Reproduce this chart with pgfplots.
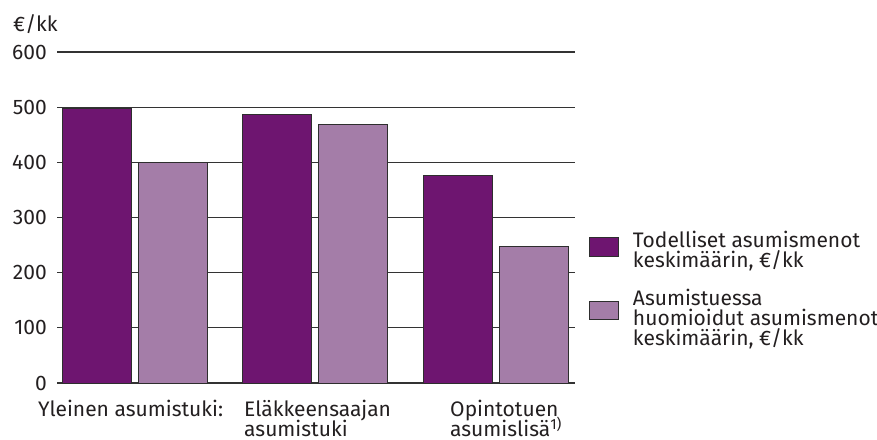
\documentclass[border=0pt]{standalone}
\usepackage{fontspec}
\setmainfont{Fira Sans}
\usepackage{pgfplots}
\pgfplotsset{compat=1.18}
\definecolor{darkp}{HTML}{6E1570}
\definecolor{lightp}{HTML}{A47DA8}
\definecolor{edgec}{HTML}{2E2E2E}
\definecolor{gridc}{HTML}{333333}
\definecolor{textc}{HTML}{231F20}
\newcommand\myfont{\fontsize{21}{20}\selectfont\lineskiplimit=-100pt\relax\lineskip=0pt\relax}
\begin{document}
\myfont
\begin{tikzpicture}[font=\myfont, text=textc]
\path[use as bounding box] (-57pt,-56pt) rectangle (820pt,383pt);
\begin{axis}[
  at={(0pt,0pt)}, anchor=south west,
  scale only axis, width=518pt, height=331pt,
  xmin=-0.429, xmax=2.437, ymin=0, ymax=600,
  axis line style={draw=none},
  major tick length=0pt,
  ytick={0,100,...,600},
  ymajorgrids, grid style={gridc, line width=1.2pt},
  /pgf/number format/assume math mode=true,
  yticklabel style={anchor=east, inner sep=0pt, xshift=-10pt, text=textc},
  xtick={0,1,2},
  xticklabels={{Yleinen asumistuki:}, {Eläkkeensaajan\\asumistuki}, {Opintotuen\\asumislisä\textsuperscript{1)}}},
  xticklabel style={anchor=north west, align=left, inner sep=0pt, yshift=-17pt, xshift={-96.5pt+25.25pt*\ticknum}, text=textc, font=\myfont},
  ybar=7pt, bar width=69pt,
  legend cell align=left,
  legend style={draw=none, fill=none, inner sep=0pt, row sep=18pt, column sep=14pt,
    at={(rel axis cs:1.027,0.4592)}, anchor=north west,
    nodes={inner sep=0pt, align=left, text=textc}},
]
\addplot[fill=darkp, draw=edgec, line width=0.8pt,
  legend image code/.code={\draw[fill=darkp, draw=edgec, line width=0.8pt] (0pt,-5pt) rectangle (29pt,13.5pt);}]
  coordinates {(0,498) (1,486) (2,376)};
\addplot[fill=lightp, draw=edgec, line width=0.8pt,
  legend image code/.code={\draw[fill=lightp, draw=edgec, line width=0.8pt] (0pt,-1pt) rectangle (29pt,17pt);}]
  coordinates {(0,399) (1,468) (2,248)};
\legend{{Todelliset asumismenot\\keskimäärin, €/kk}, {Asumistuessa\\huomioidut asumismenot\\keskimäärin, €/kk}}
\end{axis}
\node[anchor=base west, inner sep=0pt] at (-44pt,351pt) {€/kk};
\end{tikzpicture}
\end{document}
